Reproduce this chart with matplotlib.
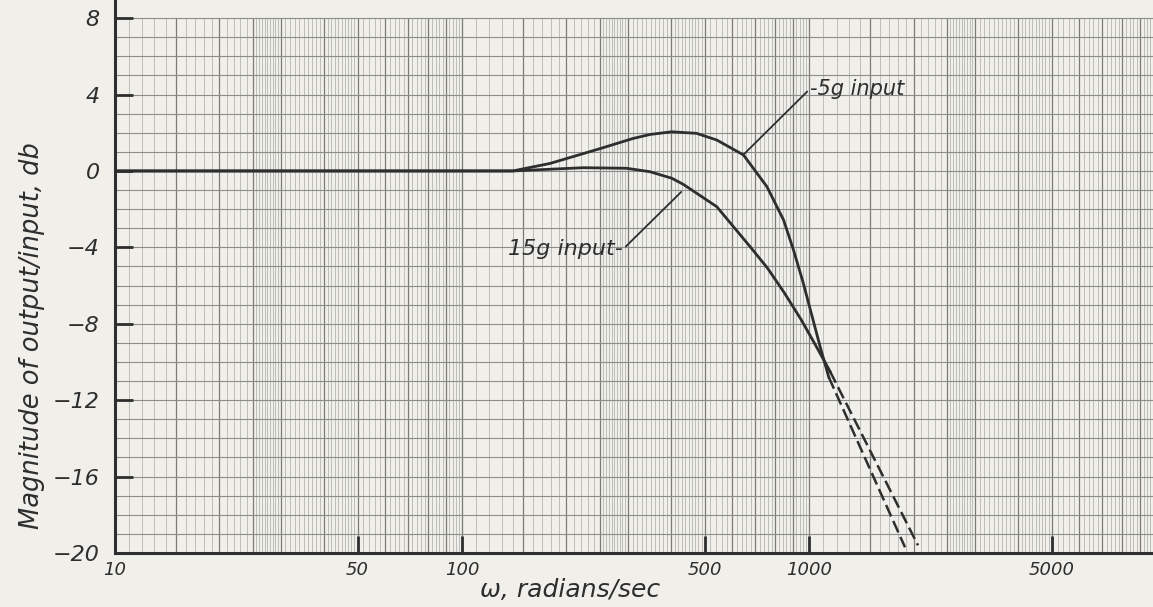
import numpy as np
import matplotlib.pyplot as plt

# curves (omega in rad/sec, magnitude in db)
w_5g = [10, 100, 140, 179, 250, 311, 348, 402, 474, 542, 647, 756, 844, 902, 960, 1020, 1080, 1140]
db_5g = [0, 0, 0, 0.39, 1.17, 1.70, 1.91, 2.05, 1.97, 1.62, 0.84, -0.82, -2.56, -4.14, -5.8, -7.6, -9.3, -10.8]
w_5g_ext = [1140, 1890]
db_5g_ext = [-10.8, -19.7]

w_15g = [10, 100, 140, 224, 298, 348, 402, 434, 542, 676, 760, 850, 950, 1050, 1150]
db_15g = [0, 0, 0, 0.17, 0.14, -0.04, -0.38, -0.70, -1.87, -3.96, -5.1, -6.4, -7.8, -9.2, -10.5]
w_15g_ext = [1150, 2060]
db_15g_ext = [-10.5, -19.6]

x_ticks = [10, 50, 100, 500, 1000, 5000]
x_labels = ['10', '50', '100', '500', '1000', '5000']
y_ticks = [-20, -16, -12, -8, -4, 0, 4, 8]
y_labels = ['−20', '−16', '−12', '−8', '−4', '0', '4', '8']

paper = '#f0efea'
ink = '#2e2e2e'
FONT = ['DejaVu Sans']

fig = plt.figure(figsize=(11.53, 6.07), dpi=100, facecolor=paper)
ax = fig.add_axes([0.0997, 0.089, 0.903, 0.911])
ax.set_facecolor(paper)
ax.set_xscale('log')
ax.set_xlim(10, 10000)
ax.set_ylim(-20, 8.95)

# log graph paper
fine = np.concatenate([np.arange(1, 2.5, 0.1), np.arange(2.5, 3, 0.05),
                       np.arange(3, 5, 0.1), np.arange(5, 10, 0.2)])
medium = np.array([1, 1.5, 2, 2.5, 3, 4, 5, 6, 7, 8, 9])
for d in [10, 100, 1000]:
    ax.vlines(fine * d, -20, 8, color='#a9a9a6', lw=0.5, zorder=1)
    ax.vlines(medium * d, -20, 8, color='#7a7a78', lw=0.9, zorder=1)
ax.hlines(np.arange(-20, 9, 1), 10, 10000, color='#8c8c8a', lw=0.8, zorder=1)

# curves
ax.plot(w_5g, db_5g, color=ink, lw=2.0, zorder=3)
ax.plot(w_5g_ext, db_5g_ext, color=ink, lw=1.8, dashes=(5, 2), zorder=3)
ax.plot(w_15g, db_15g, color=ink, lw=2.0, zorder=3)
ax.plot(w_15g_ext, db_15g_ext, color=ink, lw=1.8, dashes=(5, 2), zorder=3)

# labels with leaders
ax.annotate('-5g input', xy=(646, 0.84), xytext=(1006, 4.3), ha='left', va='center',
            fontsize=15, fontstyle='italic', family=FONT, color=ink,
            arrowprops=dict(arrowstyle='-', color=ink, lw=1.3, shrinkA=0, shrinkB=0,
                            relpos=(0, 0.5)))
ax.annotate('15g input-', xy=(428, -1.1), xytext=(291, -4.1), ha='right', va='center',
            fontsize=16, fontstyle='italic', family=FONT, color=ink,
            arrowprops=dict(arrowstyle='-', color=ink, lw=1.3, shrinkA=0, shrinkB=0,
                            relpos=(1, 0.5)))

for s in ['top', 'right']:
    ax.spines[s].set_visible(False)
for s in ['left', 'bottom']:
    ax.spines[s].set_color(ink)
    ax.spines[s].set_linewidth(2.2)

ax.set_xticks(x_ticks)
ax.set_xticklabels(x_labels)
ax.xaxis.set_minor_locator(plt.NullLocator())
ax.set_yticks(y_ticks)
ax.set_yticklabels(y_labels)
ax.tick_params(axis='x', direction='in', length=12, width=2, color=ink, pad=6,
               labelsize=13, labelcolor=ink)
ax.tick_params(axis='y', direction='in', length=13, width=2, color=ink, pad=11,
               labelsize=16, labelcolor=ink)
for lab in ax.get_xticklabels() + ax.get_yticklabels():
    lab.set_fontstyle('italic')
    lab.set_family(FONT)

ax.set_xlabel('ω, radians/sec', fontsize=18, fontstyle='italic', family=FONT, color=ink)
ax.xaxis.label.set_va('center')
ax.xaxis.set_label_coords(0.437, -0.067)
ax.set_ylabel('Magnitude of output/input, db', fontsize=18.5, fontstyle='italic',
              family=FONT, color=ink)
ax.yaxis.label.set_va('center')
ax.yaxis.set_label_coords(-0.080, 0.394)

fig.savefig('out.png', dpi=100, facecolor=paper)
